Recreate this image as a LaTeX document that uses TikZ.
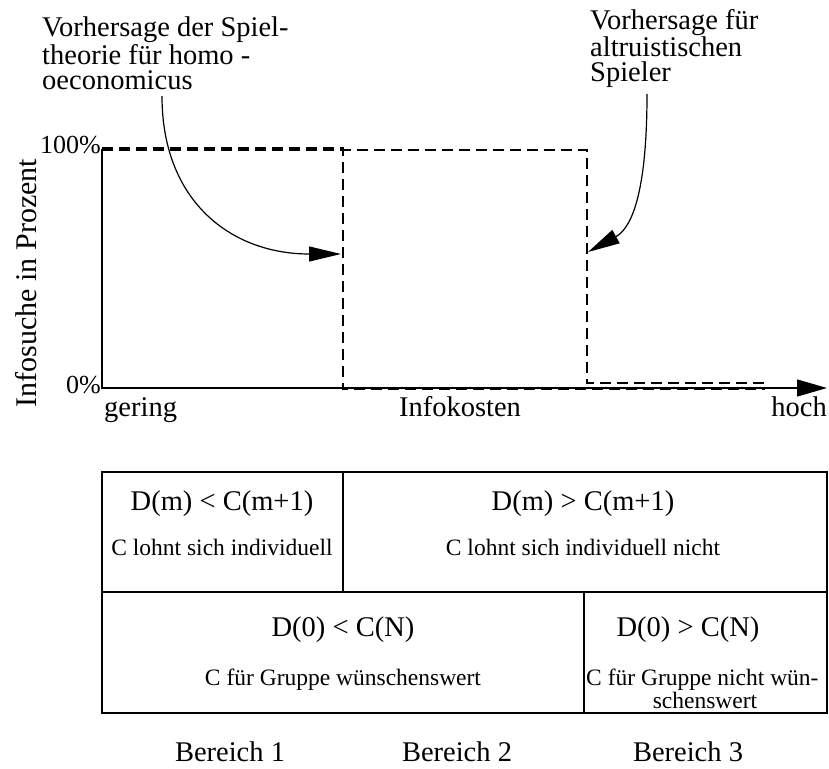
\documentclass[tikz,border=0pt]{standalone}
\usepackage{fontspec}
\setmainfont{Liberation Serif}
\usetikzlibrary{arrows.meta,calc}

\begin{document}
\begin{tikzpicture}[x=1pt,y=-1pt,
  txt/.style={inner sep=0pt,font=\fontsize{28.5}{30}\selectfont},
  small/.style={inner sep=0pt,font=\fontsize{23.5}{25}\selectfont},
  note/.style={inner sep=0pt,align=left,anchor=north west,font=\fontsize{28.5}{25.5}\selectfont},
  curve/.style={line width=2.6pt,dash pattern=on 11pt off 6pt},
  pointer/.style={line width=1.2pt,-{Triangle[length=32pt,width=15pt]}},
  grid/.style={line width=1.5pt}]

  \useasboundingbox (0,0) rectangle (829,768);

  \coordinate (O) at (102,388);
  \coordinate (top) at (102,149);
  \coordinate (end) at (827,388);
  \draw[line width=1.5pt,-{Triangle[length=30pt,width=17pt]}] (top) -- (O) -- (end);

  \node[txt,anchor=base east,font=\fontsize{26}{28}\selectfont] (p100) at (101,153) {100\%};
  \node[txt,anchor=base east,font=\fontsize{26}{28}\selectfont] (p0) at (101,393) {0\%};
  \node[txt,anchor=base west] (low) at (104,416) {gering};
  \node[txt,anchor=base] (cost) at (460,416) {Infokosten};
  \node[txt,anchor=base east] (high) at (827,416) {hoch};
  \node[txt,rotate=90,font=\fontsize{30}{32}\selectfont] (ylab) at (26,283) {Infosuche in Prozent};

  \draw[curve] (102,148) -- (343,148) -- (343,389) -- (765,389);
  \draw[curve] (102,150) -- (587,150) -- (587,383) -- (765,383);

  \node[note] (homo) at (42,17) {Vorhersage der Spiel-\\theorie für homo -\\oeconomicus};
  \node[note] (altr) at (590,9) {Vorhersage für\\altruistischen\\Spieler};
  \coordinate (tipA) at (341,254);
  \coordinate (tipB) at (588,252);
  \draw[pointer] ($(homo.south west)+(120,6)$) .. controls +(0,105) and +(-110,0) .. (tipA);
  \draw[pointer] ($(altr.south west)+(57,6)$) .. controls +(0,110) and +(40,-22) .. (tipB);

  \draw[grid] (102,472) rectangle (827,713);
  \draw[grid] (343,472) -- (343,592);
  \draw[grid] (584,592) -- (584,713);
  \draw[line width=2.5pt] (102,592) -- (827,592);

  \node[txt,anchor=base] (lt1) at (222,510) {D(m) < C(m+1)};
  \node[small,anchor=base] (lt2) at (222,555) {C lohnt sich individuell};
  \node[txt,anchor=base] (rt1) at (583,510) {D(m) > C(m+1)};
  \node[small,anchor=base] (rt2) at (583,555) {C lohnt sich individuell nicht};
  \node[txt,anchor=base] (lb1) at (343,636) {D(0) < C(N)};
  \node[small,anchor=base] (lb2) at (343,685) {C für Gruppe wünschenswert};
  \node[txt,anchor=base] (rb1) at (688,636) {D(0) > C(N)};
  \node[small,anchor=base west] (rb2) at (586,685) {C für Gruppe nicht wün-};
  \node[small,anchor=base] (rb3) at (705,708) {schenswert};

  \node[txt,anchor=base] (zone1) at (230,761) {Bereich 1};
  \node[txt,anchor=base] (zone2) at (457,761) {Bereich 2};
  \node[txt,anchor=base] (zone3) at (688,761) {Bereich 3};
\end{tikzpicture}
\end{document}
